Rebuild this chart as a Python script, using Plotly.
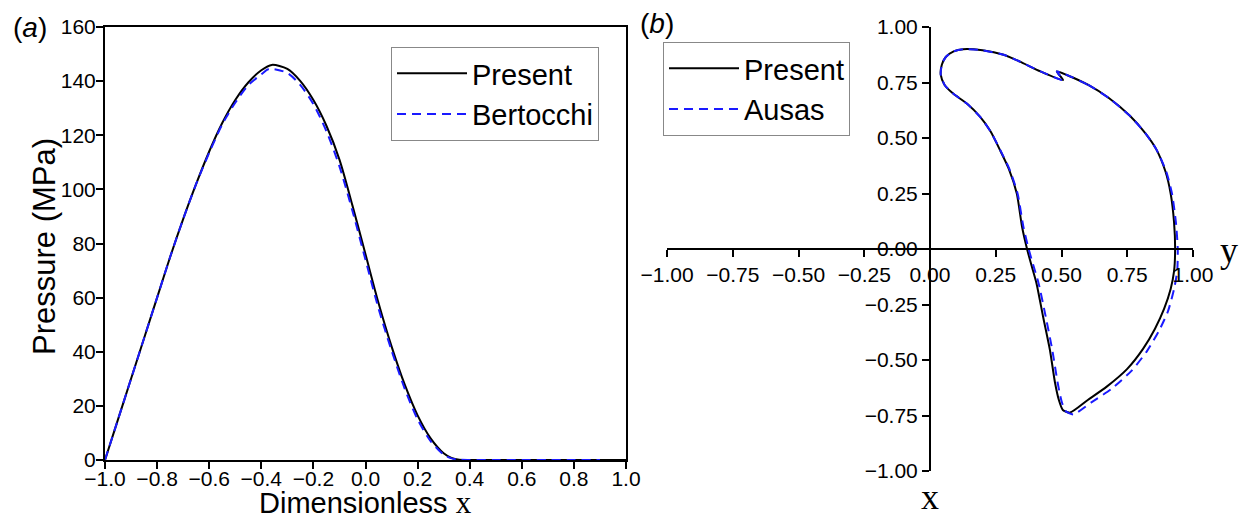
import plotly.graph_objects as go

# ---------- panel (a): pressure profile ----------
xa_present = [-1.0, -0.95, -0.9, -0.85, -0.8, -0.75, -0.7, -0.65, -0.6, -0.55, -0.5, -0.45, -0.4,
              -0.36, -0.3, -0.25, -0.2, -0.15, -0.1, -0.05, 0.0, 0.05, 0.1, 0.15, 0.2, 0.25, 0.3,
              0.33, 0.36, 0.4, 0.5, 0.6, 0.7, 0.8, 0.9, 1.0]
pa_present = [0, 15, 30, 45, 60, 75, 89, 102, 114, 124.5, 133, 139.5, 144,
              146, 144.5, 140, 133, 123.5, 111, 94, 76, 58, 42, 28, 16.5, 8, 2.5,
              0.8, 0.1, 0, 0, 0, 0, 0, 0, 0]

xa_bert = [-1.0, -0.95, -0.9, -0.85, -0.8, -0.75, -0.7, -0.65, -0.6, -0.55, -0.5, -0.45, -0.4,
           -0.37, -0.3, -0.25, -0.2, -0.15, -0.1, -0.05, 0.0, 0.05, 0.1, 0.15, 0.2, 0.25, 0.3,
           0.33, 0.36, 0.4, 0.5, 0.6, 0.7, 0.8, 0.9]
pa_bert = [0, 15, 30, 45, 60, 75, 89, 102, 113.5, 124, 132, 138.5, 142.5,
           144.5, 143, 138.5, 131.5, 121.5, 108.5, 92, 74, 56, 40.5, 26.5, 15, 7, 2,
           0.6, 0.1, 0, 0, 0, 0, 0, 0]

xa_ticks = [-1.0, -0.8, -0.6, -0.4, -0.2, 0.0, 0.2, 0.4, 0.6, 0.8, 1.0]
xa_ticklabels = ["\u22121.0", "\u22120.8", "\u22120.6", "\u22120.4", "\u22120.2", "0.0", "0.2", "0.4", "0.6", "0.8", "1.0"]
ya_ticks = [0, 20, 40, 60, 80, 100, 120, 140, 160]

# ---------- panel (b): journal orbit ----------
hb_present = [0.52, 0.60, 0.68, 0.76, 0.82, 0.86, 0.895, 0.915, 0.928, 0.932, 0.928, 0.915, 0.89,
              0.855, 0.81, 0.75, 0.672, 0.60, 0.532, 0.505, 0.49, 0.475, 0.456, 0.43, 0.405,
              0.385, 0.369, 0.35, 0.33, 0.30, 0.266, 0.23, 0.19, 0.14, 0.088, 0.055, 0.041,
              0.045, 0.06, 0.09, 0.126, 0.20, 0.28, 0.342, 0.42, 0.506, 0.482, 0.52]
vb_present = [0.784, 0.74, 0.68, 0.60, 0.52, 0.45, 0.35, 0.25, 0.12, 0.0, -0.10, -0.18, -0.27,
              -0.36, -0.45, -0.54, -0.62, -0.68, -0.737, -0.725, -0.68, -0.60, -0.455, -0.305, -0.155,
              -0.07, 0.0, 0.10, 0.25, 0.36, 0.446, 0.53, 0.596, 0.655, 0.70, 0.74, 0.784,
              0.83, 0.865, 0.89, 0.90, 0.895, 0.875, 0.844, 0.80, 0.761, 0.80, 0.784]

hb_ausas = [0.52, 0.60, 0.68, 0.76, 0.82, 0.86, 0.898, 0.92, 0.935, 0.942, 0.94, 0.928, 0.905,
            0.87, 0.825, 0.765, 0.69, 0.615, 0.545, 0.515, 0.50, 0.485, 0.465, 0.44, 0.413,
            0.392, 0.375, 0.355, 0.333, 0.302, 0.267, 0.23, 0.19, 0.14, 0.088, 0.055, 0.041,
            0.045, 0.06, 0.09, 0.126, 0.20, 0.28, 0.342, 0.42, 0.506, 0.482, 0.52]
vb_ausas = [0.784, 0.74, 0.68, 0.60, 0.52, 0.45, 0.35, 0.25, 0.12, 0.0, -0.10, -0.18, -0.28,
            -0.37, -0.46, -0.55, -0.63, -0.69, -0.745, -0.73, -0.685, -0.60, -0.455, -0.305, -0.155,
            -0.07, 0.0, 0.10, 0.25, 0.36, 0.446, 0.53, 0.596, 0.655, 0.70, 0.74, 0.784,
            0.83, 0.865, 0.89, 0.90, 0.895, 0.875, 0.844, 0.80, 0.761, 0.80, 0.784]

b_ticks = [-1.0, -0.75, -0.5, -0.25, 0.0, 0.25, 0.5, 0.75, 1.0]
b_ticklabels = ["\u22121.00", "\u22120.75", "\u22120.50", "\u22120.25", "0.00", "0.25", "0.50", "0.75", "1.00"]

SANS = "Liberation Sans, Arial, sans-serif"
SERIF = "Liberation Serif, Times New Roman, serif"
W, H = 1242, 519
BLUE = "#1a1aff"

fig = go.Figure()
fig.add_trace(go.Scatter(x=xa_present, y=pa_present, mode="lines", name="Present",
                         line=dict(color="black", width=2, shape="spline", smoothing=0.8),
                         xaxis="x", yaxis="y", legend="legend"))
fig.add_trace(go.Scatter(x=xa_bert, y=pa_bert, mode="lines", name="Bertocchi",
                         line=dict(color=BLUE, width=2, dash="9px,6px", shape="spline", smoothing=0.8),
                         xaxis="x", yaxis="y", legend="legend"))
fig.add_trace(go.Scatter(x=hb_present, y=vb_present, mode="lines", name="Present",
                         line=dict(color="black", width=2, shape="spline", smoothing=0.6),
                         xaxis="x2", yaxis="y2", legend="legend2"))
fig.add_trace(go.Scatter(x=hb_ausas, y=vb_ausas, mode="lines", name="Ausas",
                         line=dict(color=BLUE, width=2, dash="9px,6px", shape="spline", smoothing=0.6),
                         xaxis="x2", yaxis="y2", legend="legend2"))

axcommon = dict(showline=True, linecolor="black", linewidth=2, ticks="outside", ticklen=7,
                tickwidth=1.5, tickcolor="black", showgrid=False, zeroline=False, automargin=False,
                tickfont=dict(family=SANS, size=21, color="black"))

legcommon = dict(xanchor="left", yanchor="top", bordercolor="#888888", borderwidth=1,
                 bgcolor="white", font=dict(family=SANS, size=29, color="black"),
                 tracegroupgap=0, itemwidth=70)

fig.update_layout(
    template="none",
    width=W, height=H,
    margin=dict(l=0, r=0, t=0, b=0, autoexpand=False),
    paper_bgcolor="white", plot_bgcolor="white",
    xaxis=dict(domain=[105 / W, 626 / W], range=[-1, 1], anchor="y", mirror=True,
               tickvals=xa_ticks, ticktext=xa_ticklabels, ticklabelstandoff=-8, **axcommon),
    yaxis=dict(domain=[1 - 460 / H, 1 - 27 / H], range=[0, 160], anchor="x", mirror=True,
               tickvals=ya_ticks, ticklabelstandoff=-4, **axcommon),
    xaxis2=dict(domain=[667 / W, 1193 / W], range=[-1, 1], anchor="free", position=1 - 249 / H,
                tickvals=b_ticks, ticktext=b_ticklabels, **axcommon),
    yaxis2=dict(domain=[1 - 471 / H, 1 - 27 / H], range=[-1, 1], anchor="free", position=930 / W,
                tickvals=b_ticks, ticktext=b_ticklabels, **axcommon),
    legend=dict(x=391 / W, y=1 - 47 / H, **legcommon),
    legend2=dict(x=663 / W, y=1 - 42 / H, **legcommon),
    showlegend=True,
)

annos = [
    dict(text="(<i>a</i>)", x=30 / W, y=1 - 27 / H, font=dict(family=SANS, size=28)),
    dict(text="(<i>b</i>)", x=657 / W, y=1 - 24 / H, font=dict(family=SANS, size=28)),
    dict(text="Dimensionless <span style='font-family:Liberation Serif;font-size:31px'>x</span>",
         x=366 / W, y=1 - 502 / H, font=dict(family=SANS, size=29)),
    dict(text="Pressure (MPa)", x=44 / W, y=1 - 247 / H, textangle=-90, font=dict(family=SANS, size=31)),
    dict(text="y", x=1229 / W, y=1 - 250 / H, font=dict(family=SERIF, size=36)),
    dict(text="x", x=930 / W, y=1 - 497 / H, font=dict(family=SERIF, size=36)),
]
for a in annos:
    a.update(xref="paper", yref="paper", showarrow=False, xanchor="center", yanchor="middle")
    a["font"]["color"] = "black"
fig.update_layout(annotations=annos)

fig.write_html("out.html")
